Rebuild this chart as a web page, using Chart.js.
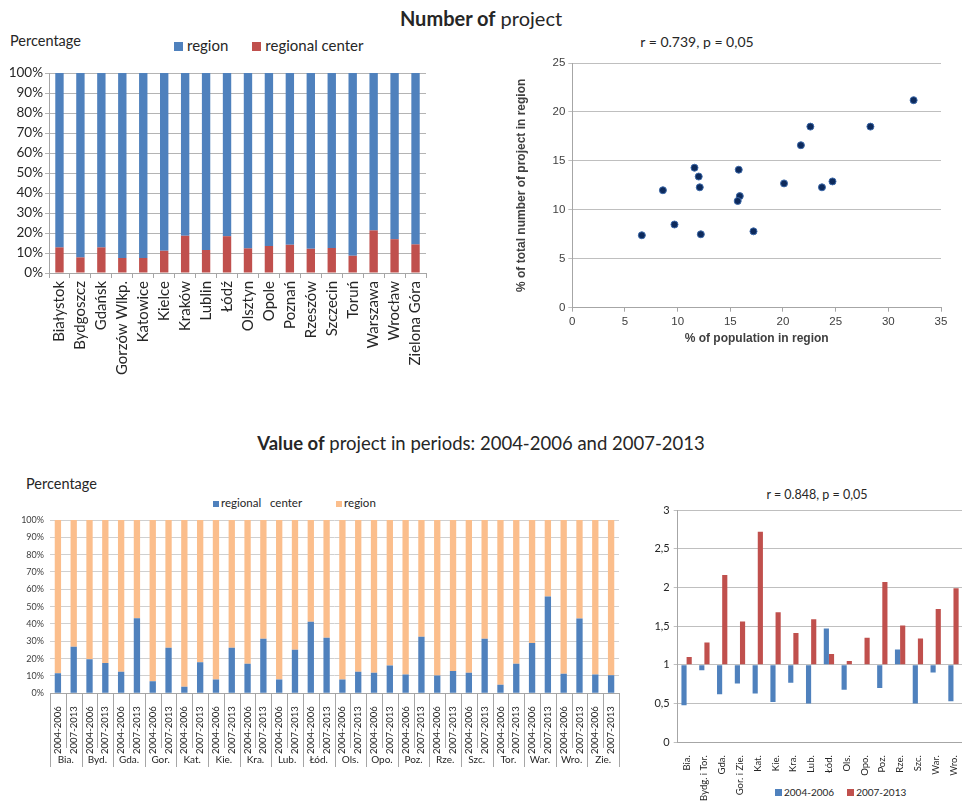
<!DOCTYPE html>
<html>
<head>
<meta charset="utf-8">
<script src="https://cdn.jsdelivr.net/npm/chart.js@4.4.1/dist/chart.umd.min.js"></script>
<style>
  html, body { margin: 0; padding: 0; width: 962px; height: 802px; overflow: hidden; background: #fff; }
  body { position: relative; font-family: Lato, "Open Sans", sans-serif; color: #262626; }
  .box { position: absolute; }
  .txt { position: absolute; white-space: pre; line-height: 1; }
  .sq { display: inline-block; width: 9px; height: 9px; margin-right: 4px; vertical-align: 0px; }
</style>
</head>
<body>

<div class="txt" style="left:0; width:962px; top:8px; text-align:center; font-size:20px;"><b>Number of</b> project</div>
<div class="txt" style="left:0; width:962px; top:434px; text-align:center; font-size:18.5px;"><b>Value of</b> project in periods: 2004-2006 and 2007-2013</div>

<!-- chart 1 texts -->
<div class="txt" style="left:10px; top:34px; font-size:14.5px;">Percentage</div>
<div class="txt" style="left:174px; top:38px; font-size:15px;"><span class="sq" style="background:#4F81BD"></span>region<span style="display:inline-block;width:24px"></span><span class="sq" style="background:#C0504D"></span>regional center</div>

<!-- chart 2 texts -->
<div class="txt" style="left:597px; width:200px; top:35px; text-align:center; font-size:14px;">r = 0.739, p = 0,05</div>

<!-- chart 3 texts -->
<div class="txt" style="left:26px; top:477px; font-size:14.5px;">Percentage</div>
<div class="txt" style="left:213px; top:497px; font-size:11.5px;"><span class="sq" style="background:#4F81BD;width:6px;height:6px;margin-right:2px"></span>regional   center<span style="display:inline-block;width:34px"></span><span class="sq" style="background:#FBBE8C;width:6px;height:6px;margin-right:2px"></span>region</div>

<!-- chart 4 texts -->
<div class="txt" style="left:717px; width:200px; top:489px; text-align:center; font-size:12.5px;">r = 0.848, p = 0,05</div>
<div class="txt" style="left:775px; top:787px; font-size:10px;"><span class="sq" style="background:#4F81BD;width:7px;height:7px;margin-right:2px"></span>2004-2006<span style="display:inline-block;width:13px"></span><span class="sq" style="background:#C0504D;width:7px;height:7px;margin-right:2px"></span>2007-2013</div>

<div class="box" style="left:0; top:0; width:440px; height:380px;"><canvas id="shareChart"></canvas></div>
<div class="box" style="left:480px; top:30px; width:482px; height:340px;"><canvas id="scatterChart"></canvas></div>
<div class="box" style="left:0; top:460px; width:640px; height:320px;"><canvas id="valueChart"></canvas></div>
<div class="box" style="left:640px; top:480px; width:330px; height:322px;"><canvas id="ratioChart"></canvas></div>

<script>
// ---- Number of project: share of regional center vs region (%)
const cities = ["Białystok", "Bydgoszcz", "Gdańsk", "Gorzów Wlkp.", "Katowice", "Kielce", "Kraków", "Lublin", "Łódź",
  "Olsztyn", "Opole", "Poznań", "Rzeszów", "Szczecin", "Toruń", "Warszawa", "Wrocław", "Zielona Góra"];
const centerShare = [12.8, 7.8, 12.8, 7.5, 7.5, 11.1, 18.6, 11.5, 18.4, 12.3, 13.5, 14.1, 12.1, 12.5, 8.6, 21.3, 16.9, 14.3];
const regionShare = [87.2, 92.2, 87.2, 92.5, 92.5, 88.9, 81.4, 88.5, 81.6, 87.7, 86.5, 85.9, 87.9, 87.5, 91.4, 78.7, 83.1, 85.7];

// ---- scatter: % of population vs % of projects
const populationPct = [6.6, 8.6, 9.7, 11.6, 12.0, 12.1, 12.2, 15.8, 15.9, 15.7, 17.2, 20.1, 21.7, 22.6, 23.7, 24.7, 28.3, 32.4];
const projectPct = [7.4, 12.0, 8.5, 14.3, 13.4, 12.3, 7.5, 14.1, 11.4, 10.9, 7.8, 12.7, 16.6, 18.5, 12.3, 12.9, 18.5, 21.2];

// ---- Value of project: regional center share per period (%)
const cityShort = ["Bia.", "Byd.", "Gda.", "Gor.", "Kat.", "Kie.", "Kra.", "Lub.", "Łód.", "Ols.", "Opo.", "Poz.", "Rze.", "Szc.", "Tor.", "War.", "Wro.", "Zie."];
const periods = ["2004-2006", "2007-2013"];
const center0406 = [11.5, 19.6, 12.5, 6.9, 3.8, 7.9, 17.1, 7.9, 41.3, 7.9, 11.9, 10.8, 10.2, 11.9, 5.0, 29.0, 11.3, 10.8];
const region0406 = [88.5, 80.4, 87.5, 93.1, 96.2, 92.1, 82.9, 92.1, 58.7, 92.1, 88.1, 89.2, 89.8, 88.1, 95.0, 71.0, 88.7, 89.2];
const center0713 = [26.9, 17.5, 43.3, 26.3, 17.9, 26.3, 31.5, 25.2, 32.1, 12.5, 16.0, 32.7, 12.9, 31.5, 17.1, 55.8, 43.1, 10.4];
const region0713 = [73.1, 82.5, 56.7, 73.7, 82.1, 73.7, 68.5, 74.8, 67.9, 87.5, 84.0, 67.3, 87.1, 68.5, 82.9, 44.2, 56.9, 89.6];

// ---- ratio chart (bars start at 1)
const ratioCities = ["Bia.", "Bydg. i Tor.", "Gda.", "Gor. i Zie.", "Kat.", "Kie.", "Kra.", "Lub.", "Łód.", "Ols.", "Opo.", "Poz.", "Rze.", "Szc.", "War.", "Wro."];
const ratio0406 = [0.48, 0.93, 0.62, 0.76, 0.63, 0.52, 0.77, 0.50, 1.47, 0.68, 1.00, 0.70, 1.20, 0.50, 0.90, 0.53];
const ratio0713 = [1.10, 1.29, 2.16, 1.56, 2.72, 1.68, 1.41, 1.59, 1.14, 1.05, 1.35, 2.07, 1.51, 1.34, 1.72, 1.99];

const BLUE = "#4F81BD";
const RED = "#C0504D";
const PEACH = "#FBBE8C";
const calibri = "Lato, 'Open Sans', sans-serif";
const arial = "'Liberation Sans', Arial, sans-serif";

Chart.defaults.animation = false;
Chart.defaults.responsive = true;
Chart.defaults.maintainAspectRatio = false;
Chart.defaults.plugins.legend.display = false;
Chart.defaults.plugins.tooltip.enabled = false;

function fixWidth(w) { return (scale) => { scale.width = w; }; }
function fixHeight(h) { return (scale) => { scale.height = h; }; }

// Chart 1 - stacked 100% bars
new Chart(document.getElementById("shareChart"), {
  type: "bar",
  data: {
    labels: cities,
    datasets: [
      { label: "regional center", data: centerShare, backgroundColor: RED, barPercentage: 0.4, categoryPercentage: 1 },
      { label: "region", data: regionShare, backgroundColor: BLUE, barPercentage: 0.4, categoryPercentage: 1 },
    ],
  },
  options: {
    layout: { padding: { top: 73, right: 14, left: 0, bottom: 0 } },
    scales: {
      x: {
        stacked: true,
        afterFit: fixHeight(107),
        grid: { offset: true, drawOnChartArea: false, tickLength: 5, color: "#A6A6A6" },
        border: { color: "#A6A6A6" },
        ticks: { autoSkip: false, minRotation: 90, maxRotation: 90, padding: 3, color: "#262626", font: { family: calibri, size: 15 } },
      },
      y: {
        stacked: true,
        min: 0, max: 100,
        afterFit: fixWidth(49),
        grid: { color: "#B4B4B4", tickLength: 4 },
        border: { color: "#A6A6A6" },
        ticks: { stepSize: 10, padding: 2, color: "#262626", font: { family: calibri, size: 13.5 }, callback: (v) => v + "%" },
      },
    },
  },
});

// Chart 2 - scatter
new Chart(document.getElementById("scatterChart"), {
  type: "scatter",
  data: {
    datasets: [{
      label: "regions",
      data: populationPct.map((x, i) => ({ x: x, y: projectPct[i] })),
      backgroundColor: "#0D2A5C",
      borderColor: "#3C68A8",
      borderWidth: 1,
      pointRadius: 3.5,
    }],
  },
  options: {
    layout: { padding: { top: 33, right: 21, left: 30, bottom: 20 } },
    scales: {
      x: {
        type: "linear", min: 0, max: 35,
        afterFit: fixHeight(42.3),
        grid: { drawOnChartArea: false, tickLength: 4, color: "#A6A6A6" },
        border: { color: "#A6A6A6" },
        ticks: { stepSize: 5, padding: 3, color: "#404040", font: { family: arial, size: 11.5 } },
        title: { display: true, text: "% of population in region", color: "#404040", font: { family: arial, size: 12, weight: "bold" } },
      },
      y: {
        min: 0, max: 25,
        afterFit: fixWidth(62.3),
        grid: { color: "#BFBFBF", tickLength: 4 },
        border: { color: "#A6A6A6" },
        ticks: { stepSize: 5, padding: 3, color: "#404040", font: { family: arial, size: 11.5 } },
        title: { display: true, text: "% of total number of project in region", color: "#404040", font: { family: arial, size: 12, weight: "bold" } },
      },
    },
  },
});

// Chart 3 - value share by period, two-level category axis
const periodLabels = cityShort.flatMap(() => periods);
const centerValues = cityShort.flatMap((c, i) => [center0406[i], center0713[i]]);
const regionValues = cityShort.flatMap((c, i) => [region0406[i], region0713[i]]);

const groupAxis = {
  id: "groupAxis",
  afterDraw(chart) {
    const { ctx, scales: { x } } = chart;
    const half = (x.getPixelForValue(1) - x.getPixelForValue(0)) / 2;
    const top = x.top;
    ctx.save();
    ctx.strokeStyle = "#A6A6A6";
    ctx.lineWidth = 1;
    for (let j = 0; j <= periodLabels.length; j++) {
      const px = Math.round(x.getPixelForValue(j) - half) + 0.5;
      ctx.beginPath();
      ctx.moveTo(px, top);
      ctx.lineTo(px, j % 2 === 0 ? 307 : 288);
      ctx.stroke();
    }
    ctx.fillStyle = "#262626";
    ctx.font = "10px " + calibri;
    ctx.textAlign = "center";
    ctx.textBaseline = "middle";
    cityShort.forEach((name, i) => {
      const cx = (x.getPixelForValue(2 * i) + x.getPixelForValue(2 * i + 1)) / 2;
      ctx.fillText(name, cx, 300);
    });
    ctx.restore();
  },
};

new Chart(document.getElementById("valueChart"), {
  type: "bar",
  data: {
    labels: periodLabels,
    datasets: [
      { label: "regional   center", data: centerValues, backgroundColor: BLUE, barPercentage: 0.4, categoryPercentage: 1 },
      { label: "region", data: regionValues, backgroundColor: PEACH, barPercentage: 0.4, categoryPercentage: 1 },
    ],
  },
  options: {
    layout: { padding: { top: 60, right: 21, left: 0, bottom: 0 } },
    scales: {
      x: {
        stacked: true,
        afterFit: fixHeight(86.7),
        grid: { display: false },
        border: { color: "#A6A6A6" },
        ticks: { autoSkip: false, minRotation: 90, maxRotation: 90, padding: 5, color: "#262626", font: { family: calibri, size: 9.5 } },
      },
      y: {
        stacked: true,
        min: 0, max: 100,
        afterFit: fixWidth(50),
        grid: { color: "#D0D0D0", drawTicks: false },
        border: { display: false },
        ticks: { stepSize: 10, padding: 6, color: "#404040", font: { family: calibri, size: 9 }, callback: (v) => v + "%" },
      },
    },
  },
  plugins: [groupAxis],
});

// Chart 4 - ratio bars starting from 1
new Chart(document.getElementById("ratioChart"), {
  type: "bar",
  data: {
    labels: ratioCities,
    datasets: [
      { label: "2004-2006", data: ratio0406, base: 1, backgroundColor: BLUE, barPercentage: 1, categoryPercentage: 0.58 },
      { label: "2007-2013", data: ratio0713, base: 1, backgroundColor: RED, barPercentage: 1, categoryPercentage: 0.58 },
    ],
  },
  options: {
    layout: { padding: { top: 30, right: 4, left: 0, bottom: 0 } },
    scales: {
      x: {
        afterFit: fixHeight(59.7),
        grid: { display: false },
        border: { color: "#A6A6A6" },
        ticks: { autoSkip: false, minRotation: 90, maxRotation: 90, padding: 5, color: "#262626", font: { family: calibri, size: 9.5 } },
      },
      y: {
        min: 0, max: 3,
        afterFit: fixWidth(37.7),
        grid: { color: "#BFBFBF", tickLength: 4 },
        border: { color: "#A6A6A6" },
        ticks: { stepSize: 0.5, padding: 4, color: "#262626", font: { family: calibri, size: 11 }, callback: (v) => String(v).replace(".", ",") },
      },
    },
  },
});
</script>
</body>
</html>
